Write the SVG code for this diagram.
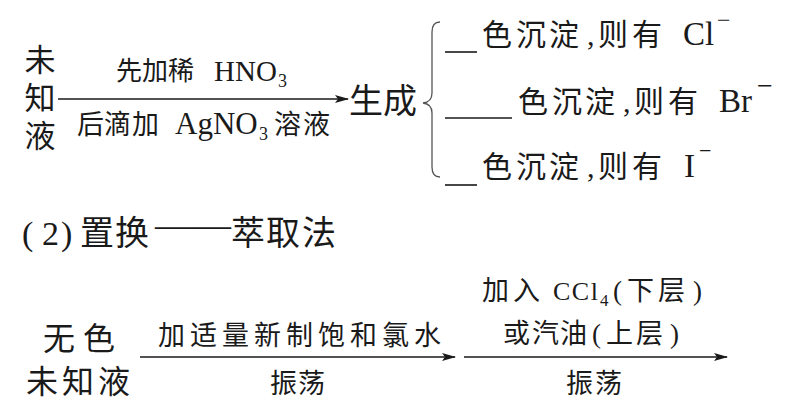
<svg xmlns="http://www.w3.org/2000/svg" width="800" height="405" viewBox="0 0 800 405">
<defs>
<style>
text{font-family:"Liberation Serif","Noto Sans CJK SC",serif;fill:#1a1a1a}
.cjk{font-family:"Noto Sans CJK SC","Liberation Serif",sans-serif}
.big{font-size:32px}
.mid{font-size:27px}
.lbl{font-size:26px}
.sub{font-size:18px}
.ln{stroke:#1a1a1a;stroke-width:1.6;fill:none}
.br{stroke:#555;stroke-width:1.3;fill:none}
</style>
<marker id="ah" viewBox="0 0 14 8" refX="13" refY="4" markerWidth="14" markerHeight="8" markerUnits="userSpaceOnUse" orient="auto">
<path d="M0,0 L14,4 L0,8 L3,4 Z" fill="#1a1a1a"/>
</marker>
</defs>
<rect width="800" height="405" fill="#fff"/>

<g id="connectors">
<line class="ln" x1="58" y1="99" x2="348" y2="99" marker-end="url(#ah)"/>
<line class="ln" x1="140" y1="357" x2="455" y2="357" marker-end="url(#ah)"/>
<line class="ln" x1="464" y1="357" x2="727" y2="357" marker-end="url(#ah)"/>
<path class="br" d="M440,22 Q432,22 432,32 L432,93 Q432,102 423,103 Q432,104 432,113 L432,167 Q432,177 440,177"/>
</g>

<g id="unknown1">
<text class="cjk" style="font-size:31px;writing-mode:vertical-rl;letter-spacing:7px" x="40" y="44">未知液</text>
</g>
<g id="label1">
<text class="lbl cjk" x="116 142 168" y="80">先加稀</text>
<text x="214" y="81" style="font-size:29px">HNO</text>
<text class="sub" x="278" y="87">3</text>
<text class="mid cjk" x="77 104 132" y="134">后滴加</text>
<text x="175" y="134" style="font-size:31px">AgNO</text>
<text class="sub" x="259" y="140">3</text>
<text class="mid cjk" x="274 303" y="134">溶液</text>
</g>
<g id="result">
<text class="cjk" x="349" y="113" style="font-size:34px">生成</text>
</g>
<g id="cl">
<line class="ln" x1="445" y1="52" x2="477" y2="52"/>
<text class="cjk" x="482 516 549" y="45" style="font-size:30px">色沉淀</text>
<text x="587" y="45" style="font-size:30px">,</text>
<text class="cjk" x="598 632" y="45" style="font-size:30px">则有</text>
<text x="683" y="45" style="font-size:33px">Cl</text>
<text x="717" y="28" style="font-size:24px">−</text>
</g>
<g id="br">
<line class="ln" x1="445" y1="118" x2="512" y2="118"/>
<text class="cjk" x="518 552 585" y="112" style="font-size:30px">色沉淀</text>
<text x="623" y="112" style="font-size:30px">,</text>
<text class="cjk" x="634 668" y="112" style="font-size:30px">则有</text>
<text x="719" y="112" style="font-size:33px">Br</text>
<text x="757" y="95" style="font-size:28px">−</text>
</g>
<g id="i">
<line class="ln" x1="445" y1="185" x2="477" y2="185"/>
<text class="cjk" x="482 516 549" y="177" style="font-size:30px">色沉淀</text>
<text x="587" y="177" style="font-size:30px">,</text>
<text class="cjk" x="598 632" y="177" style="font-size:30px">则有</text>
<text x="684" y="177" style="font-size:33px">I</text>
<text x="699" y="158" style="font-size:22px">−</text>
</g>

<g id="heading">
<text x="22" y="245" style="font-size:34px">(</text>
<text x="42" y="245" style="font-size:34px">2</text>
<text x="61" y="245" style="font-size:34px">)</text>
<text class="cjk" x="80 115" y="245" style="font-size:34px">置换</text>
<text x="155" y="236" style="font-size:34px" textLength="76" lengthAdjust="spacingAndGlyphs">——</text>
<text class="cjk" x="231 266 302" y="245" style="font-size:34px">萃取法</text>
</g>

<g id="unknown2">
<text class="big cjk" x="43 83" y="350">无色</text>
<text class="big cjk" x="26 62 98" y="393">未知液</text>
</g>
<g id="label2">
<text class="mid cjk" x="158" y="345" letter-spacing="5">加适量新制饱和氯水</text>
<text class="mid cjk" x="270 298" y="393">振荡</text>
</g>
<g id="label3">
<text class="mid cjk" x="482 513" y="300">加入</text>
<text x="553" y="300" style="font-size:26px" letter-spacing="1.5">CCl</text>
<text x="600" y="306" style="font-size:17px">4</text>
<text x="613" y="300" style="font-size:27px">(</text>
<text class="mid cjk" x="627 658" y="300">下层</text>
<text x="693" y="300" style="font-size:27px">)</text>
<text class="mid cjk" x="503 532 560" y="343">或汽油</text>
<text x="592" y="343" style="font-size:27px">(</text>
<text class="mid cjk" x="606 636" y="343">上层</text>
<text x="670" y="343" style="font-size:27px">)</text>
<text class="mid cjk" x="566 595" y="393">振荡</text>
</g>
</svg>
